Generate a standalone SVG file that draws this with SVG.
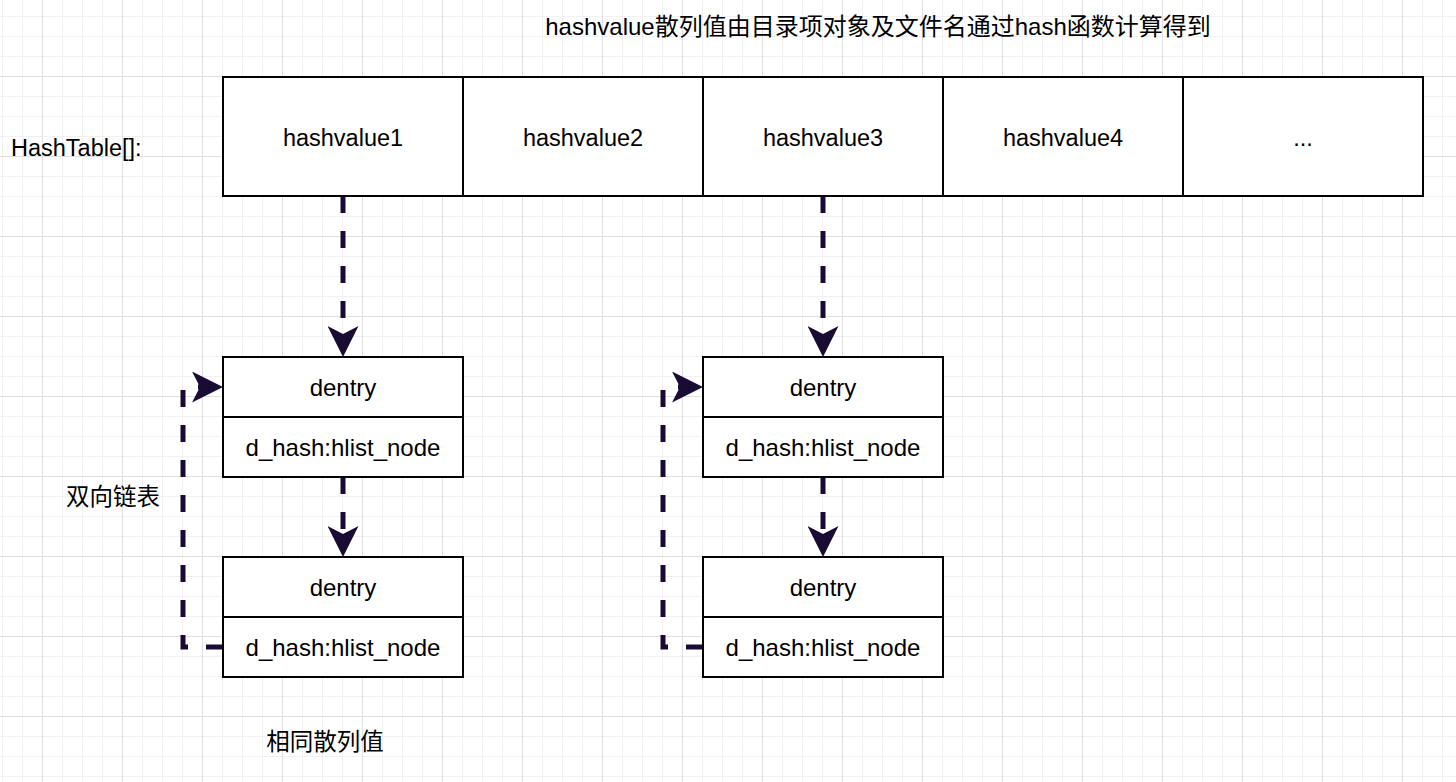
<svg xmlns="http://www.w3.org/2000/svg" width="1456" height="782" viewBox="0 0 1456 782">
  <defs>
    <pattern id="grid" patternUnits="userSpaceOnUse" x="2" y="-4" width="80" height="80">
      <rect x="0" y="0" width="80" height="80" fill="#ffffff"/>
      <g fill="#f1f1f1">
        <rect x="0" y="0" width="1" height="80"/>
        <rect x="20" y="0" width="1" height="80"/>
        <rect x="60" y="0" width="1" height="80"/>
        <rect x="0" y="20" width="80" height="1"/>
        <rect x="0" y="40" width="80" height="1"/>
        <rect x="0" y="60" width="80" height="1"/>
      </g>
      <g fill="#e0e0e0">
        <rect x="40" y="0" width="1" height="80"/>
        <rect x="0" y="0" width="80" height="1"/>
      </g>
    </pattern>
    <marker id="arrow" markerUnits="userSpaceOnUse" viewBox="0 0 31 31" markerWidth="31" markerHeight="31" refX="8" refY="15.5" orient="auto">
      <path d="M0,0 L31,15.5 L0,31 L8,15.5 Z" fill="#1a0b35"/>
    </marker>
    <style>
      .box { fill: #ffffff; stroke: #000000; stroke-width: 2; }
      .div { stroke: #000000; stroke-width: 2; fill: none; }
      .t { font-family: "Liberation Sans", "Noto Sans CJK SC", sans-serif; font-size: 24px; fill: #000000; }
      .s { font-size: 23.5px; }
      .c { text-anchor: middle; }
      .edge { fill: none; stroke: #1a0b35; stroke-width: 5; stroke-dasharray: 17 18; marker-end: url(#arrow); }
    </style>
  </defs>

  <rect x="0" y="0" width="1456" height="782" fill="url(#grid)"/>

  <text id="title" class="t c" x="878" y="35">hashvalue散列值由目录项对象及文件名通过hash函数计算得到</text>
  <text id="label-hashtable" class="t s" x="11" y="156">HashTable[]:</text>
  <text id="label-dlist" class="t s c" x="113" y="505">双向链表</text>
  <text id="label-same" class="t s c" x="325" y="750">相同散列值</text>

  <g id="connectors">
    <path class="edge" d="M343,196 V334"/>
    <path class="edge" d="M823,196 V334"/>
    <path class="edge" d="M343,477 V534"/>
    <path class="edge" d="M823,477 V534"/>
    <path class="edge" d="M223,647 H183 V387 H200"/>
    <path class="edge" d="M703,647 H663 V387 H680"/>
  </g>

  <g id="cell1"><rect class="box" x="223" y="77" width="240" height="119"/><text class="t s c" x="343" y="146">hashvalue1</text></g>
  <g id="cell2"><rect class="box" x="463" y="77" width="240" height="119"/><text class="t s c" x="583" y="146">hashvalue2</text></g>
  <g id="cell3"><rect class="box" x="703" y="77" width="240" height="119"/><text class="t s c" x="823" y="146">hashvalue3</text></g>
  <g id="cell4"><rect class="box" x="943" y="77" width="240" height="119"/><text class="t s c" x="1063" y="146">hashvalue4</text></g>
  <g id="cell5"><rect class="box" x="1183" y="77" width="240" height="119"/><text class="t s c" x="1303" y="146">...</text></g>

  <g id="dentry1a">
    <rect class="box" x="223" y="357" width="240" height="120"/>
    <line class="div" x1="223" y1="417" x2="463" y2="417"/>
    <text class="t c" x="343" y="396">dentry</text>
    <text class="t c" x="343" y="456">d_hash:hlist_node</text>
  </g>
  <g id="dentry1b">
    <rect class="box" x="223" y="557" width="240" height="120"/>
    <line class="div" x1="223" y1="617" x2="463" y2="617"/>
    <text class="t c" x="343" y="596">dentry</text>
    <text class="t c" x="343" y="656">d_hash:hlist_node</text>
  </g>
  <g id="dentry2a">
    <rect class="box" x="703" y="357" width="240" height="120"/>
    <line class="div" x1="703" y1="417" x2="943" y2="417"/>
    <text class="t c" x="823" y="396">dentry</text>
    <text class="t c" x="823" y="456">d_hash:hlist_node</text>
  </g>
  <g id="dentry2b">
    <rect class="box" x="703" y="557" width="240" height="120"/>
    <line class="div" x1="703" y1="617" x2="943" y2="617"/>
    <text class="t c" x="823" y="596">dentry</text>
    <text class="t c" x="823" y="656">d_hash:hlist_node</text>
  </g>
</svg>
